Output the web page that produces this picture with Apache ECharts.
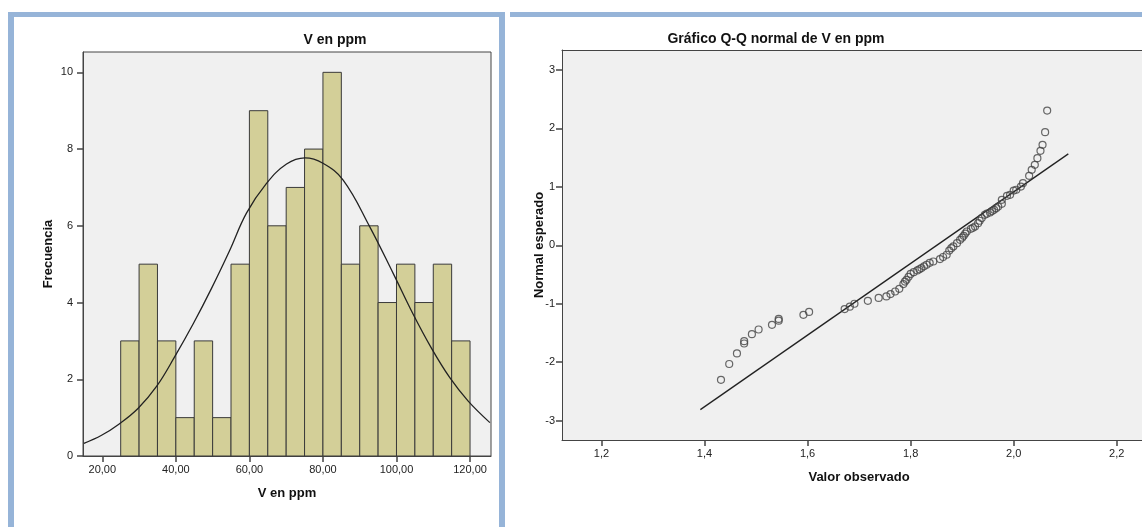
<!DOCTYPE html>
<html><head><meta charset="utf-8">
<script src="https://cdn.jsdelivr.net/npm/echarts@6/dist/echarts.min.js"></script>
<style>html,body{margin:0;padding:0;background:#fff}#c{width:1142px;height:527px}</style>
</head><body><div id="c"></div>
<script>
// Histogram: V en ppm
const binStarts = [25,30,35,40,45,50,55,60,65,70,75,80,85,90,95,100,105,110,115];
const binCounts = [3,5,3,1,3,1,5,9,6,7,8,10,5,6,4,5,4,5,3];
const binWidth = 5;
// Normal curve
const curveX = [15,19.8,24.5,29.7,34.8,39.7,44.8,49.7,54.6,59.2,64.6,70.1,75.1,80,85.5,92.7,99.1,104.5,109.5,114.5,119.5,125.4];
const curveY = [0.33,0.54,0.83,1.24,1.82,2.59,3.46,4.37,5.35,6.33,7.1,7.61,7.77,7.63,7.19,5.98,4.76,3.7,2.81,2.04,1.43,0.87];
// Q-Q plot points
const qqObserved = [1.432,1.448,1.463,1.477,1.477,1.492,1.505,1.531,1.544,1.544,1.592,1.603,1.672,1.682,1.691,1.717,1.738,1.753,1.761,1.770,1.778,1.786,1.789,1.792,1.796,1.800,1.806,1.813,1.817,1.821,1.826,1.831,1.837,1.844,1.857,1.863,1.870,1.875,1.879,1.883,1.890,1.896,1.900,1.903,1.906,1.909,1.917,1.921,1.925,1.931,1.934,1.938,1.944,1.948,1.954,1.958,1.962,1.966,1.970,1.977,1.977,1.987,1.993,2.000,2.005,2.014,2.018,2.030,2.035,2.041,2.046,2.052,2.056,2.061,2.065];
const qqExpected = [-2.30,-2.03,-1.85,-1.68,-1.64,-1.52,-1.44,-1.36,-1.29,-1.26,-1.19,-1.14,-1.09,-1.05,-1.00,-0.95,-0.90,-0.875,-0.834,-0.79,-0.744,-0.663,-0.62,-0.59,-0.54,-0.49,-0.46,-0.43,-0.41,-0.39,-0.36,-0.333,-0.30,-0.277,-0.236,-0.20,-0.162,-0.09,-0.05,-0.02,0.037,0.094,0.13,0.162,0.20,0.236,0.282,0.30,0.321,0.379,0.42,0.465,0.521,0.54,0.561,0.585,0.607,0.635,0.663,0.709,0.778,0.846,0.863,0.936,0.95,1.005,1.063,1.188,1.29,1.376,1.49,1.615,1.718,1.935,2.304];
const refLineX = [1.392, 2.106];
const refLineY = [-2.81, 1.564];

const commaFmt = d => v => v.toFixed(d).replace('.', ',');
const FONT = 'Liberation Sans, Arial, sans-serif';
const axisCommon = {
  splitLine:{show:false},
  nameMoveOverlap:false,
  axisLine:{show:true, onZero:false, lineStyle:{color:'#444', width:1}},
  axisTick:{show:true, length:6, lineStyle:{color:'#444', width:1.5}},
};
const nameStyle = {fontFamily:FONT, fontSize:13, fontWeight:'bold', color:'#111'};
const labelStyle = {fontFamily:FONT, fontSize:11, color:'#222', showMinLabel:false, showMaxLabel:false};

const chart = echarts.init(document.getElementById('c'));
chart.setOption({
  animation:false,
  backgroundColor:'#fff',
  title:[
    {text:'V en ppm', left:335, top:33, textAlign:'center', padding:0, textStyle:{fontFamily:FONT, fontSize:14, fontWeight:'bold', color:'#111'}},
    {text:'Gráfico Q-Q normal de V en ppm', left:776, top:32, textAlign:'center', padding:0, textStyle:{fontFamily:FONT, fontSize:14, fontWeight:'bold', color:'#111'}}
  ],
  graphic:[
    {type:'rect', shape:{x:8, y:12, width:6, height:515}, style:{fill:'#96B4D8'}, silent:true},
    {type:'rect', shape:{x:8, y:12, width:497, height:5}, style:{fill:'#96B4D8'}, silent:true},
    {type:'rect', shape:{x:499, y:12, width:6, height:515}, style:{fill:'#96B4D8'}, silent:true},
    {type:'rect', shape:{x:510, y:12, width:632, height:5}, style:{fill:'#96B4D8'}, silent:true}
  ],
  grid:[
    {left:83, top:52, right:651, bottom:71, show:true, backgroundColor:'#F0F0F0', borderColor:'#444', borderWidth:1},
    {left:562, top:50, right:0, bottom:87, show:true, backgroundColor:'#F0F0F0', borderWidth:0}
  ],
  xAxis:[
    Object.assign({type:'value', gridIndex:0, min:14.75, max:125.7,
      axisLabel:Object.assign({margin:8, formatter:commaFmt(2)}, labelStyle),
      name:'V en ppm', nameLocation:'middle', nameGap:31, nameTextStyle:nameStyle}, axisCommon),
    Object.assign({type:'value', gridIndex:1, min:1.1235, max:2.249,
      axisLabel:Object.assign({margin:8, formatter:commaFmt(1)}, labelStyle),
      name:'Valor observado', nameLocation:'middle', nameGap:31,
      nameTextStyle:Object.assign({padding:[0,0,0,14]}, nameStyle)}, axisCommon),
    {type:'value', gridIndex:1, position:'top', min:1.1235, max:2.249,
      axisLine:{show:true, onZero:false, lineStyle:{color:'#444', width:1}},
      axisTick:{show:false}, axisLabel:{show:false}, splitLine:{show:false}}
  ],
  yAxis:[
    Object.assign({type:'value', gridIndex:0, min:0, max:10.53,
      axisLabel:Object.assign({margin:10}, labelStyle, {showMinLabel:true}),
      name:'Frecuencia', nameLocation:'middle', nameGap:28, nameTextStyle:nameStyle}, axisCommon),
    Object.assign({type:'value', gridIndex:1, min:-3.33, max:3.34,
      axisLabel:Object.assign({margin:7}, labelStyle),
      name:'Normal esperado', nameLocation:'middle', nameGap:16, nameTextStyle:nameStyle}, axisCommon)
  ],
  series:[
    {type:'custom', xAxisIndex:0, yAxisIndex:0,
      data: binStarts.map((s,i)=>[s, s+binWidth, binCounts[i]]),
      encode:{x:[0,1], y:2},
      renderItem(params, api){
        const p0 = api.coord([api.value(0), api.value(2)]);
        const p1 = api.coord([api.value(1), 0]);
        return {type:'rect', shape:{x:p0[0], y:p0[1], width:p1[0]-p0[0], height:p1[1]-p0[1]},
          style:{fill:'#D3CF98', stroke:'#3a3a3a', lineWidth:1}};
      }, z:2},
    {type:'line', xAxisIndex:0, yAxisIndex:0, data: curveX.map((x,i)=>[x, curveY[i]]),
      smooth:0.4, showSymbol:false, lineStyle:{color:'#222', width:1.3}, z:3},
    {type:'line', xAxisIndex:1, yAxisIndex:1, data: refLineX.map((x,i)=>[x, refLineY[i]]),
      showSymbol:false, lineStyle:{color:'#222', width:1.3}, z:2},
    {type:'scatter', xAxisIndex:1, yAxisIndex:1, data: qqObserved.map((x,i)=>[x, qqExpected[i]]),
      symbol:'circle', symbolSize:7,
      itemStyle:{color:'rgba(0,0,0,0)', borderColor:'#444', borderWidth:1.2}, z:3}
  ]
});
</script>
</body></html>
